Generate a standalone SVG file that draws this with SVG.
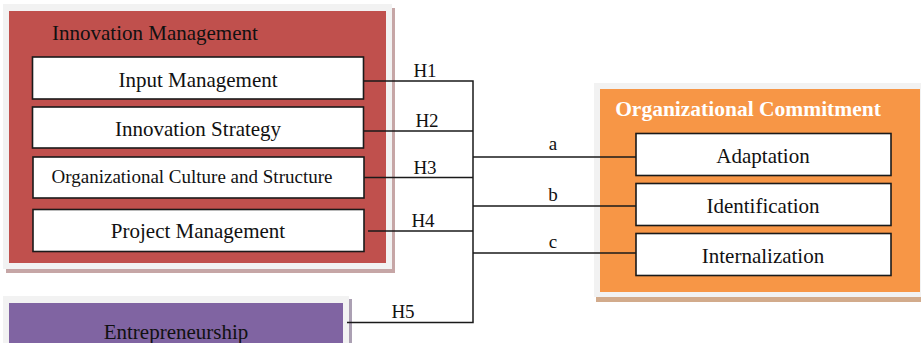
<svg xmlns="http://www.w3.org/2000/svg" width="921" height="343" viewBox="0 0 921 343">
  <style>
    .frame { fill: #F2F2F2; }
    .box { fill: #FFFFFF; stroke: #1A1A1A; stroke-width: 1.6; }
    .lbl { fill: #111111; text-anchor: middle; }
    .wire { fill: none; stroke: #1A1A1A; stroke-width: 1.5; }
  </style>
  <rect width="921" height="343" fill="#FFFFFF"/>

  <g font-family="Liberation Serif, Times New Roman, serif">
  <!-- Innovation Management container -->
  <g id="innovation-management">
    <rect x="6" y="8" width="389" height="265" fill="#C6A6A6"/>
    <rect x="3" y="4" width="389" height="265" class="frame"/>
    <rect x="9" y="11" width="377" height="252" fill="#C0504D"/>
    <text x="52" y="40" font-size="21" fill="#111111">Innovation Management</text>
  </g>
  <g id="input-management">
    <rect x="32.5" y="57" width="331" height="42" class="box"/>
    <text x="198" y="87" class="lbl" font-size="21">Input Management</text>
  </g>
  <g id="innovation-strategy">
    <rect x="32.5" y="107" width="331" height="41" class="box"/>
    <text x="198" y="136" class="lbl" font-size="21">Innovation Strategy</text>
  </g>
  <g id="culture-structure">
    <rect x="33" y="157" width="331" height="41" class="box"/>
    <text x="192" y="183" class="lbl" font-size="19">Organizational Culture and Structure</text>
  </g>
  <g id="project-management">
    <rect x="33" y="209.5" width="331" height="42" class="box"/>
    <text x="198" y="238" class="lbl" font-size="21">Project Management</text>
  </g>

  <!-- Entrepreneurship -->
  <g id="entrepreneurship">
    <rect x="6" y="299" width="346" height="60" fill="#ABA0B3"/>
    <rect x="3" y="296" width="346" height="60" class="frame"/>
    <rect x="9" y="303" width="334" height="50" fill="#8064A2"/>
    <text x="176" y="339" class="lbl" font-size="21">Entrepreneurship</text>
  </g>

  <!-- Organizational Commitment container -->
  <g id="organizational-commitment">
    <rect x="596" y="87" width="327" height="215" fill="#D2AB8C"/>
    <rect x="594" y="83" width="327" height="214" class="frame"/>
    <rect x="600" y="89" width="320" height="203" fill="#F79646"/>
    <text x="748" y="116" text-anchor="middle" font-size="21.5" font-weight="bold" fill="#FFFFFF">Organizational Commitment</text>
  </g>
  <g id="adaptation">
    <rect x="636" y="133.5" width="255" height="42" class="box"/>
    <text x="763" y="163" class="lbl" font-size="21">Adaptation</text>
  </g>
  <g id="identification">
    <rect x="636" y="183.5" width="255" height="42" class="box"/>
    <text x="763" y="213" class="lbl" font-size="21">Identification</text>
  </g>
  <g id="internalization">
    <rect x="636" y="233.5" width="255" height="42" class="box"/>
    <text x="763" y="263" class="lbl" font-size="21">Internalization</text>
  </g>

  <!-- Connectors -->
  <g id="connectors">
    <path class="wire" d="M363.5 81 H473 V322.5 H347"/>
    <path class="wire" d="M363.5 131 H473"/>
    <path class="wire" d="M364 177.5 H473"/>
    <path class="wire" d="M368 231 H473"/>
    <path class="wire" d="M473 157 H636"/>
    <path class="wire" d="M473 206 H636"/>
    <path class="wire" d="M473 253 H636"/>
    <g class="lbl" font-size="19">
      <text x="425" y="77">H1</text>
      <text x="427" y="127">H2</text>
      <text x="425" y="174">H3</text>
      <text x="423" y="227">H4</text>
      <text x="403" y="318">H5</text>
      <text x="553" y="150">a</text>
      <text x="553" y="201">b</text>
      <text x="553" y="248">c</text>
    </g>
  </g>
  </g>
</svg>
